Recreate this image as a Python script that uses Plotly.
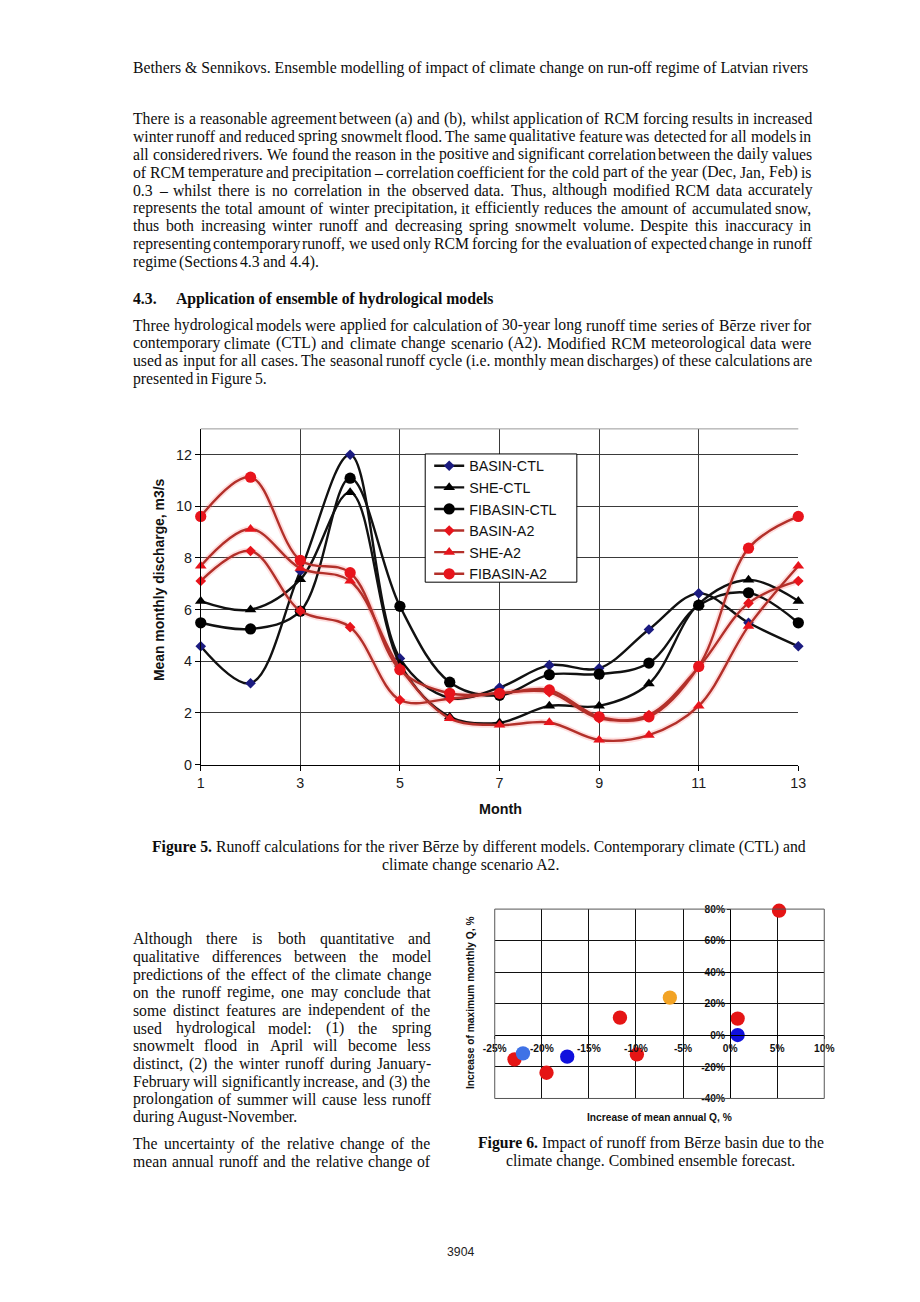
import plotly.graph_objects as go

W_PAGE, H_PAGE = 920, 1302
BODY_MARGIN = 8  # default browser body margin around the plot div
FIG_W, FIG_H = W_PAGE - 2 * BODY_MARGIN, H_PAGE - 2 * BODY_MARGIN
# observed capture mapping (screen = A * page + B); positions are given in screen pixels
AX, BX = 0.978, 11.0
AY, BY = 0.988, 7.0
K = 1 / AX  # size compensation
TY = 2.0    # vertical nudge for body text


def px(x):
    return ((x - BX) / AX - BODY_MARGIN) / FIG_W


def py(y):
    return 1 - ((y - BY) / AY - BODY_MARGIN) / FIG_H


# ---------------- Figure 5 data ----------------
months = [1, 2, 3, 4, 5, 6, 7, 8, 9, 10, 11, 12, 13]
basin_ctl = [4.58, 3.15, 7.50, 12.0, 4.11, 2.58, 2.98, 3.85, 3.73, 5.23, 6.63, 5.49, 4.58]
she_ctl = [6.33, 6.00, 7.17, 10.54, 3.90, 1.85, 1.62, 2.27, 2.27, 3.13, 6.22, 7.15, 6.33]
fibasin_ctl = [5.49, 5.25, 5.94, 11.09, 6.13, 3.19, 2.68, 3.48, 3.50, 3.93, 6.17, 6.65, 5.49]
basin_a2 = [7.11, 8.27, 5.95, 5.32, 2.50, 2.55, 2.76, 2.80, 1.79, 1.92, 3.77, 6.25, 7.11]
she_a2 = [7.69, 9.12, 7.60, 7.11, 3.75, 1.79, 1.53, 1.63, 0.95, 1.14, 2.27, 5.36, 7.69]
fibasin_a2 = [9.61, 11.13, 7.91, 7.43, 3.67, 2.76, 2.76, 2.89, 1.85, 1.85, 3.80, 8.38, 9.61]
series_names = ["BASIN-CTL", "SHE-CTL", "FIBASIN-CTL", "BASIN-A2", "SHE-A2", "FIBASIN-A2"]
x_ticks_f5 = [1, 3, 5, 7, 9, 11, 13]
y_ticks_f5 = [0, 2, 4, 6, 8, 10, 12]

# ---------------- Figure 6 data ----------------
red_x = [5.2, -11.7, 0.8, -9.9, -22.9, -19.5]
red_y = [79.0, 11.2, 10.6, -12.1, -15.2, -23.7]
blue_x = [0.8, -17.3]
blue_y = [0.2, -13.5]
lightblue_x = [-22.0]
lightblue_y = [-11.4]
orange_x = [-6.4]
orange_y = [23.9]
x_ticks_f6 = [-25, -20, -15, -10, -5, 0, 5, 10]
x_ticklabels_f6 = ["-25%", "-20%", "-15%", "-10%", "-5%", "0%", "5%", "10%"]
y_ticks_f6 = [-40, -20, 0, 20, 40, 60, 80]
y_ticklabels_f6 = ["-40%", "-20%", "0%", "20%", "40%", "60%", "80%"]

# ---------------- Text ----------------
header = "Bethers & Sennikovs. Ensemble modelling of impact of climate change on run-off regime of Latvian rivers"
para1 = [
    "There is a reasonable agreement between (a) and (b), whilst application of RCM forcing results in increased",
    "winter runoff and reduced spring snowmelt flood. The same qualitative feature was detected for all models in",
    "all considered rivers. We found the reason in the positive and significant correlation between the daily values",
    "of RCM temperature and precipitation – correlation coefficient for the cold part of the year (Dec, Jan, Feb) is",
    "0.3 – whilst there is no correlation in the observed data. Thus, although modified RCM data accurately",
    "represents the total amount of winter precipitation, it efficiently reduces the amount of accumulated snow,",
    "thus both increasing winter runoff and decreasing spring snowmelt volume. Despite this inaccuracy in",
    "representing contemporary runoff, we used only RCM forcing for the evaluation of expected change in runoff",
    "regime (Sections 4.3 and 4.4).",
]
heading_num = "4.3."
heading_txt = "Application of ensemble of hydrological models"
para2 = [
    "Three hydrological models were applied for calculation of 30-year long runoff time series of Bērze river for",
    "contemporary climate (CTL) and climate change scenario (A2). Modified RCM meteorological data were",
    "used as input for all cases. The seasonal runoff cycle (i.e. monthly mean discharges) of these calculations are",
    "presented in Figure 5.",
]
para3 = [
    "Although there is both quantitative and",
    "qualitative differences between the model",
    "predictions of the effect of the climate change",
    "on the runoff regime, one may conclude that",
    "some distinct features are independent of the",
    "used hydrological model: (1) the spring",
    "snowmelt flood in April will become less",
    "distinct, (2) the winter runoff during January-",
    "February will significantly increase, and (3) the",
    "prolongation of summer will cause less runoff",
    "during August-November.",
]
para4 = [
    "The uncertainty of the relative change of the",
    "mean annual runoff and the relative change of",
]
cap5 = ["<b>Figure 5.</b> Runoff calculations for the river Bērze by different models. Contemporary climate (CTL) and",
        "climate change scenario A2."]
cap6 = ["<b>Figure 6.</b> Impact of runoff from Bērze basin due to the",
        "climate change. Combined ensemble forecast."]
page_no = "3904"

# Times (Liberation Serif) advance widths per 1000 em
TW = {' ': 250, '!': 333, '"': 408, '#': 500, '$': 500, '%': 833, '&': 778, "'": 333, '(': 333, ')': 333,
      '*': 500, '+': 564, ',': 250, '-': 333, '.': 250, '/': 278, ':': 278, ';': 278, '<': 564, '=': 564,
      '>': 564, '?': 444, '@': 921, 'A': 722, 'B': 667, 'C': 667, 'D': 722, 'E': 611, 'F': 556, 'G': 722,
      'H': 722, 'I': 333, 'J': 389, 'K': 722, 'L': 611, 'M': 889, 'N': 722, 'O': 722, 'P': 556, 'Q': 722,
      'R': 667, 'S': 556, 'T': 611, 'U': 722, 'V': 722, 'W': 944, 'X': 722, 'Y': 722, 'Z': 611, '[': 333,
      ']': 333, 'a': 444, 'b': 500, 'c': 444, 'd': 500, 'e': 444, 'f': 333, 'g': 500, 'h': 500, 'i': 278,
      'j': 278, 'k': 500, 'l': 278, 'm': 778, 'n': 500, 'o': 500, 'p': 500, 'q': 500, 'r': 333, 's': 389,
      't': 278, 'u': 500, 'v': 500, 'w': 722, 'x': 500, 'y': 500, 'z': 444, '–': 500, 'ē': 444}
for d in "0123456789":
    TW[d] = 500


def tw(s, size):
    return sum(TW.get(c, 500) for c in s) * size / 1000.0


SERIF = "Liberation Serif, Times New Roman, serif"
SANS = "Liberation Sans, Arial, sans-serif"
TXT = "#0d0d0d"
FS = 15.4

annotations = []


def esc(s):
    return s.replace("&", "&amp;")


def word_ann(word, x, y, size, bold=False):
    t = esc(word)
    if bold:
        t = "<b>" + t + "</b>"
    annotations.append(dict(x=px(x), y=py(y + TY), xref="paper", yref="paper", xanchor="left", yanchor="middle",
                            text=t, showarrow=False, borderpad=0,
                            font=dict(family=SERIF, size=size * K, color=TXT)))


def paragraph(lines, x0, x1, y0, dy, size, justify_last=False):
    for i, line in enumerate(lines):
        y = y0 + i * dy
        words = line.split(" ")
        last = (i == len(lines) - 1) and not justify_last
        if last or len(words) == 1:
            x = x0
            for w in words:
                word_ann(w, x, y, size)
                x += tw(w, size) + tw(" ", size)
            continue
        s = size
        widths = [tw(w, s) for w in words]
        gap = (x1 - x0 - sum(widths)) / (len(words) - 1)
        if gap < 0.15 * s:
            s = s * (x1 - x0) / (sum(widths) + 0.15 * s * (len(words) - 1))
            widths = [tw(w, s) for w in words]
            gap = (x1 - x0 - sum(widths)) / (len(words) - 1)
        x = x0
        for w, wd in zip(words, widths):
            word_ann(w, x, y, s)
            x += wd + gap


def text_ann(txt, x, y, size, family=SERIF, xanchor="center", angle=0, color=TXT):
    annotations.append(dict(x=px(x), y=py(y), xref="paper", yref="paper", xanchor=xanchor, yanchor="middle",
                            text=txt, showarrow=False, borderpad=0, textangle=angle,
                            font=dict(family=family, size=size * K, color=color)))


text_ann(esc(header), 131, 67 + TY + 1, FS, xanchor="left")
paragraph(para1, 131, 811, 118.3, 17.85, FS)
word_ann(heading_num, 131, 298, FS, bold=True)
word_ann(heading_txt, 174, 298, FS, bold=True)
paragraph(para2, 131, 811, 324.5, 17.85, FS)
paragraph(para3, 131, 429, 937, 17.8, FS)
paragraph(para4, 131, 429, 1141.5, 17.8, FS, justify_last=True)

for txt, cx, cy in [(cap5[0], 479, 845), (cap5[1], 470, 863), (cap6[0], 651, 1141), (cap6[1], 651, 1159)]:
    text_ann(txt, cx, cy + TY, FS)

text_ann(page_no, 460, 1252, 12, family=SANS, color="#222")

# axis titles
text_ann("<b>Mean monthly discharge, m3/s</b>", 158, 580, 13.6, family=SANS, angle=-90, color="#111")
text_ann("<b>Month</b>", 500, 809, 14, family=SANS, color="#111")
text_ann("<b>Increase of maximum monthly Q, %</b>", 471, 1003, 10, family=SANS, angle=-90, color="#111")
text_ann("<b>Increase of mean annual Q, %</b>", 660, 1117, 10, family=SANS, color="#111")

fig = go.Figure()

RED_LINE = "#b3302a"
RED_MK = "#e8141c"
GLOW = "rgba(255,110,110,0.22)"

styles = [
    (basin_ctl, "#111111", dict(symbol="diamond", size=8 * K, color="#1b1b80")),
    (she_ctl, "#111111", dict(symbol="triangle-up", size=10 * K, color="#000000")),
    (fibasin_ctl, "#111111", dict(symbol="circle", size=11 * K, color="#000000")),
    (basin_a2, RED_LINE, dict(symbol="diamond", size=8 * K, color=RED_MK)),
    (she_a2, RED_LINE, dict(symbol="triangle-up", size=10 * K, color=RED_MK)),
    (fibasin_a2, RED_LINE, dict(symbol="circle", size=11 * K, color=RED_MK)),
]

for vals, lc, mk in styles[3:]:
    fig.add_trace(go.Scatter(x=months, y=vals, mode="lines", line=dict(color=GLOW, width=6, shape="spline", smoothing=1.0),
                             showlegend=False, hoverinfo="skip", xaxis="x", yaxis="y", cliponaxis=False))

for name, (vals, lc, mk) in zip(series_names, styles):
    fig.add_trace(go.Scatter(x=months, y=vals, name=name, mode="lines+markers",
                             line=dict(color=lc, width=2.4, shape="spline", smoothing=1.0),
                             marker=mk, xaxis="x", yaxis="y", cliponaxis=False))

for xs, ys, col in [(red_x, red_y, "#e51515"), (blue_x, blue_y, "#1010dd"),
                    (lightblue_x, lightblue_y, "#3f72e6"), (orange_x, orange_y, "#f2a325")]:
    fig.add_trace(go.Scatter(x=xs, y=ys, mode="markers", showlegend=False, xaxis="x2", yaxis="y2",
                             marker=dict(size=14 * K, color=col), cliponaxis=False))

x5_dom = [px(200), px(799)]
y5_dom = [py(765), py(430)]
x6_dom = [px(494.7), px(825)]
y6_dom = [py(1098.3), py(909.3)]
x6_zero = px(494.7 + 25 / 35 * (825 - 494.7))
y6_zero = py(1098.3 - 40 / 120 * (1098.3 - 909.3))

fig.update_layout(
    width=FIG_W, height=FIG_H, autosize=False,
    margin=dict(l=0, r=0, t=0, b=0),
    paper_bgcolor="white", plot_bgcolor="white",
    showlegend=True,
    legend=dict(x=px(429), y=py(451), xanchor="left", yanchor="top", bgcolor="rgba(0,0,0,0)",
                borderwidth=0, font=dict(family=SANS, size=14 * K, color="#111"),
                tracegroupgap=0, itemwidth=30),
    xaxis=dict(domain=x5_dom, anchor="y", range=[1, 13], tickvals=x_ticks_f5, showgrid=True,
               gridcolor="#3a3a3a", gridwidth=1, showline=True, linecolor="#000", linewidth=1,
               ticks="outside", ticklen=5, tickcolor="#000", zeroline=False,
               tickfont=dict(family=SANS, size=14 * K, color="#1a1a1a")),
    yaxis=dict(domain=y5_dom, anchor="x", range=[0, 13], tickvals=y_ticks_f5, showgrid=True,
               gridcolor="#3a3a3a", gridwidth=1, showline=True, linecolor="#000", linewidth=1,
               ticks="outside", ticklen=5, tickcolor="#000", zeroline=False,
               tickfont=dict(family=SANS, size=14 * K, color="#1a1a1a")),
    xaxis2=dict(domain=x6_dom, anchor="free", position=y6_zero, range=[-25, 10], tickvals=x_ticks_f6,
                ticktext=x_ticklabels_f6, showgrid=True, gridcolor="#111", gridwidth=1, showline=True,
                linecolor="#000", linewidth=1, ticks="outside", ticklen=3, tickcolor="#000", zeroline=False,
                tickfont=dict(family=SANS, size=10 * K, color="#111", weight="bold")),
    yaxis2=dict(domain=y6_dom, anchor="free", position=x6_zero, range=[-40, 80], tickvals=y_ticks_f6,
                ticktext=y_ticklabels_f6, showgrid=True, gridcolor="#111", gridwidth=1, showline=True,
                linecolor="#000", linewidth=1, ticks="outside", ticklen=3, tickcolor="#000", zeroline=False,
                tickfont=dict(family=SANS, size=10 * K, color="#111", weight="bold")),
    annotations=annotations,
    shapes=[
        dict(type="line", xref="x domain", yref="paper", x0=0, x1=1, y0=y5_dom[1], y1=y5_dom[1],
             line=dict(color="#999", width=1)),
        dict(type="rect", xref="x2 domain", yref="y2 domain", x0=0, x1=1, y0=0, y1=1,
             line=dict(color="#555", width=1)),
        dict(type="rect", xref="paper", yref="paper", x0=px(425), x1=px(577), y0=py(583), y1=py(455),
             line=dict(color="#000", width=1), fillcolor="white", layer="above"),
    ],
)

fig.write_html("out.html", config={"displayModeBar": False})
